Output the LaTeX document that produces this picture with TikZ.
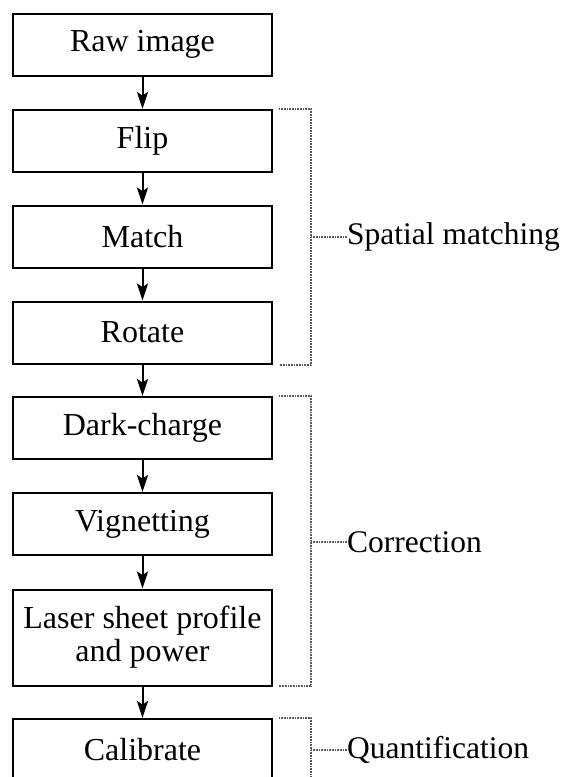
\documentclass[tikz,border=0pt]{standalone}
\usepackage{fontspec}
\setmainfont{Liberation Serif}
\usetikzlibrary{arrows.meta}
\begin{document}
\begin{tikzpicture}[x=1pt,y=-1pt,
  stepbox/.style={draw, line width=2pt, minimum width=259pt, minimum height=62pt,
    inner sep=0pt, align=center, font=\fontsize{32}{33}\selectfont},
  flow/.style={line width=2pt, -{Stealth[length=17pt,width=11pt,inset=3.5pt]}},
  brace/.style={draw=black!65, line width=1.2pt, dash pattern=on 1pt off 0.6pt},
  grouplabel/.style={anchor=west, inner sep=0pt, font=\fontsize{31.5}{33}\selectfont}]
\useasboundingbox (0,0) rectangle (565,777);
\clip (0,0) rectangle (565,777);

% processing steps
\node[stepbox] (raw)   at (142.5,44.5)  {Raw image};
\node[stepbox] (flip)  at (142.5,141)   {Flip};
\node[stepbox] (match) at (142.5,236.5) {Match};
\node[stepbox] (rot)   at (142.5,332.5) {Rotate};
\node[stepbox] (dark)  at (142.5,428)   {Dark-charge};
\node[stepbox] (vig)   at (142.5,524)   {Vignetting};
\node[stepbox, minimum height=96pt] (laser) at (142.5,637.5) {Laser sheet profile\\and power};
\node[stepbox] (cal)   at (142.5,750)   {Calibrate};

% arrows between steps
\draw[flow] (raw)   -- (flip);
\draw[flow] (flip)  -- (match);
\draw[flow] (match) -- (rot);
\draw[flow] (rot)   -- (dark);
\draw[flow] (dark)  -- (vig);
\draw[flow] (vig)   -- (laser);
\draw[flow] (laser) -- (cal);

% group brackets
\coordinate (s1) at (279,109);  \coordinate (s2) at (311,109);
\coordinate (s3) at (311,365);  \coordinate (s4) at (279,365);
\coordinate (sm) at (311,237);
\node[grouplabel] (spatial) at (347,237) {Spatial matching};
\draw[brace] (s1) -- (s2) -- (s3) -- (s4);
\draw[brace] (sm) -- (spatial.west);

\coordinate (c1) at (279,396);  \coordinate (c2) at (311,396);
\coordinate (c3) at (311,686);  \coordinate (c4) at (279,686);
\coordinate (cm) at (311,542);
\node[grouplabel] (corr) at (347,542) {Correction};
\draw[brace] (c1) -- (c2) -- (c3) -- (c4);
\draw[brace] (cm) -- (corr.west);

\coordinate (q1) at (279,718);  \coordinate (q2) at (311,718);
\coordinate (q3) at (311,790);
\coordinate (qm) at (311,750);
\node[grouplabel] (quant) at (347,750) {Quantification};
\draw[brace] (q1) -- (q2) -- (q3);
\draw[brace] (qm) -- (quant.west);
\end{tikzpicture}
\end{document}
